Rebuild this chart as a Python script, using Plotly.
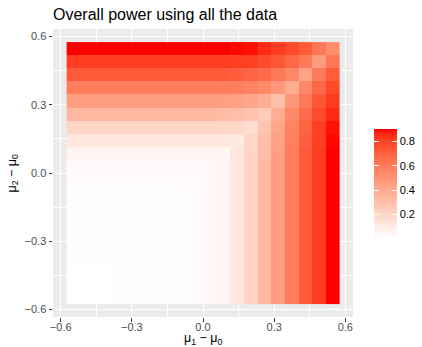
import plotly.graph_objects as go

# Grid of mean differences (tile centres) on both axes
mu1_minus_mu0 = [-0.5463, -0.4888, -0.4313, -0.3738, -0.3163, -0.2588, -0.2013, -0.1438,
                 -0.0863, -0.0288, 0.0288, 0.0863, 0.1438, 0.2013, 0.2588, 0.3163,
                 0.3738, 0.4313, 0.4888, 0.5463]
mu2_minus_mu0 = list(mu1_minus_mu0)

# Overall power: one row per mu2 value (bottom to top), one column per mu1 value
power = [
    [0.007, 0.008, 0.009, 0.010, 0.011, 0.012, 0.014, 0.016, 0.019, 0.023, 0.028, 0.056, 0.119, 0.205, 0.335, 0.456, 0.600, 0.725, 0.820, 0.905],
    [0.008, 0.008, 0.009, 0.010, 0.011, 0.012, 0.014, 0.016, 0.019, 0.023, 0.028, 0.056, 0.119, 0.205, 0.335, 0.456, 0.600, 0.725, 0.820, 0.905],
    [0.009, 0.009, 0.009, 0.010, 0.011, 0.012, 0.014, 0.016, 0.019, 0.023, 0.028, 0.056, 0.119, 0.205, 0.335, 0.456, 0.600, 0.725, 0.820, 0.905],
    [0.010, 0.010, 0.010, 0.010, 0.011, 0.012, 0.014, 0.016, 0.019, 0.023, 0.028, 0.056, 0.119, 0.205, 0.335, 0.456, 0.600, 0.725, 0.820, 0.905],
    [0.011, 0.011, 0.011, 0.011, 0.011, 0.012, 0.014, 0.016, 0.019, 0.023, 0.028, 0.056, 0.119, 0.205, 0.335, 0.456, 0.600, 0.725, 0.820, 0.905],
    [0.012, 0.012, 0.012, 0.012, 0.012, 0.012, 0.014, 0.016, 0.019, 0.023, 0.028, 0.056, 0.119, 0.205, 0.335, 0.456, 0.600, 0.725, 0.820, 0.905],
    [0.014, 0.014, 0.014, 0.014, 0.014, 0.014, 0.014, 0.016, 0.019, 0.023, 0.028, 0.056, 0.119, 0.205, 0.335, 0.456, 0.600, 0.725, 0.820, 0.905],
    [0.016, 0.016, 0.016, 0.016, 0.016, 0.016, 0.016, 0.016, 0.019, 0.023, 0.028, 0.056, 0.119, 0.205, 0.335, 0.456, 0.600, 0.725, 0.820, 0.905],
    [0.019, 0.019, 0.019, 0.019, 0.019, 0.019, 0.019, 0.019, 0.019, 0.023, 0.028, 0.056, 0.119, 0.205, 0.335, 0.456, 0.600, 0.725, 0.820, 0.905],
    [0.023, 0.023, 0.023, 0.023, 0.023, 0.023, 0.023, 0.023, 0.023, 0.023, 0.028, 0.056, 0.119, 0.205, 0.335, 0.456, 0.600, 0.725, 0.820, 0.905],
    [0.028, 0.028, 0.028, 0.028, 0.028, 0.028, 0.028, 0.028, 0.028, 0.028, 0.028, 0.056, 0.119, 0.205, 0.335, 0.456, 0.600, 0.725, 0.820, 0.905],
    [0.056, 0.056, 0.056, 0.056, 0.056, 0.056, 0.056, 0.056, 0.056, 0.056, 0.056, 0.052, 0.119, 0.205, 0.321, 0.456, 0.600, 0.725, 0.820, 0.905],
    [0.119, 0.119, 0.119, 0.119, 0.119, 0.119, 0.119, 0.119, 0.119, 0.119, 0.119, 0.119, 0.106, 0.200, 0.312, 0.443, 0.586, 0.712, 0.815, 0.896],
    [0.205, 0.205, 0.205, 0.205, 0.205, 0.205, 0.205, 0.205, 0.205, 0.205, 0.205, 0.205, 0.200, 0.169, 0.285, 0.425, 0.573, 0.694, 0.811, 0.887],
    [0.335, 0.335, 0.335, 0.335, 0.335, 0.335, 0.335, 0.335, 0.335, 0.335, 0.335, 0.321, 0.312, 0.285, 0.249, 0.384, 0.546, 0.667, 0.775, 0.860],
    [0.456, 0.456, 0.456, 0.456, 0.456, 0.456, 0.456, 0.456, 0.456, 0.456, 0.456, 0.456, 0.443, 0.425, 0.384, 0.303, 0.483, 0.613, 0.739, 0.820],
    [0.600, 0.600, 0.600, 0.600, 0.600, 0.600, 0.600, 0.600, 0.600, 0.600, 0.600, 0.600, 0.586, 0.573, 0.546, 0.483, 0.393, 0.555, 0.681, 0.779],
    [0.725, 0.725, 0.725, 0.725, 0.725, 0.725, 0.725, 0.725, 0.725, 0.725, 0.725, 0.725, 0.712, 0.694, 0.667, 0.613, 0.555, 0.438, 0.609, 0.721],
    [0.820, 0.820, 0.820, 0.820, 0.820, 0.820, 0.820, 0.820, 0.820, 0.820, 0.820, 0.820, 0.815, 0.811, 0.775, 0.739, 0.681, 0.609, 0.474, 0.618],
    [0.905, 0.905, 0.905, 0.905, 0.905, 0.905, 0.905, 0.905, 0.905, 0.905, 0.905, 0.905, 0.896, 0.887, 0.860, 0.820, 0.779, 0.721, 0.618, 0.528],
]

axis_ticks = [-0.6, -0.3, 0.0, 0.3, 0.6]
axis_ticktext = ["\u22120.6", "\u22120.3", "0.0", "0.3", "0.6"]
legend_ticks = [0.2, 0.4, 0.6, 0.8]
legend_ticktext = ["0.2", "0.4", "0.6", "0.8"]


# White -> red gradient interpolated in CIELAB space
def lab_to_rgb(L, a, b):
    fy = (L + 16) / 116
    fx = fy + a / 500
    fz = fy - b / 200

    def finv(f):
        return f ** 3 if f ** 3 > 0.008856 else (f - 16 / 116) / 7.787

    X, Y, Z = 0.95047 * finv(fx), 1.0 * finv(fy), 1.08883 * finv(fz)
    rl = 3.2406 * X - 1.5372 * Y - 0.4986 * Z
    gl = -0.9689 * X + 1.8758 * Y + 0.0415 * Z
    bl = 0.0557 * X - 0.2040 * Y + 1.0570 * Z

    def gam(c):
        c = min(max(c, 0.0), 1.0)
        return 12.92 * c if c <= 0.0031308 else 1.055 * c ** (1 / 2.4) - 0.055

    return tuple(int(round(255 * gam(c))) for c in (rl, gl, bl))


LAB_LOW = (100.0, 0.0, 0.0)
LAB_HIGH = (53.2408, 80.0925, 67.2032)
n_stops = 21
colorscale = []
for s in range(n_stops):
    t = s / (n_stops - 1)
    lab = [lo + t * (hi - lo) for lo, hi in zip(LAB_LOW, LAB_HIGH)]
    r, g, b = lab_to_rgb(*lab)
    colorscale.append([t, f"rgb({r},{g},{b})"])

fig = go.Figure()

fig.add_trace(go.Heatmap(
    x=mu1_minus_mu0, y=mu2_minus_mu0, z=power,
    colorscale=colorscale,
    hoverinfo="skip",
    colorbar=dict(
        thicknessmode="pixels", thickness=23,
        lenmode="pixels", len=109,
        x=1.07, xanchor="left", xpad=0,
        y=0.464, yanchor="middle", ypad=0,
        outlinewidth=0,
        tickvals=legend_ticks, ticktext=legend_ticktext,
        ticks="inside", ticklen=4.6, tickwidth=1, tickcolor="white",
        tickfont=dict(family="Liberation Sans", size=11, color="black"),
    ),
))

# Transparent copy that only supplies the left-hand tick marks of the legend bar
fig.add_trace(go.Heatmap(
    x=mu1_minus_mu0, y=mu2_minus_mu0, z=power,
    colorscale=[[0, "rgba(0,0,0,0)"], [1, "rgba(0,0,0,0)"]],
    hoverinfo="skip",
    colorbar=dict(
        thicknessmode="pixels", thickness=4.6,
        lenmode="pixels", len=109,
        x=1.07, xanchor="left", xpad=0,
        y=0.464, yanchor="middle", ypad=0,
        outlinewidth=0,
        tickvals=legend_ticks, ticks="inside", ticklen=4.6,
        tickwidth=1, tickcolor="white", showticklabels=False,
    ),
))

axis_common = dict(
    tickvals=axis_ticks, ticktext=axis_ticktext,
    ticks="outside", ticklen=3.5, tickwidth=1, tickcolor="#333333",
    tickfont=dict(family="Liberation Sans", size=11, color="#4D4D4D"),
    showgrid=True, gridcolor="white", gridwidth=1.2,
    minor=dict(dtick=0.15, tick0=-0.45, showgrid=True, gridcolor="white",
               gridwidth=0.6, ticks=""),
    zeroline=False, showline=False,
    range=[-0.6325, 0.6325],
)

fig.update_layout(
    width=422, height=347,
    margin=dict(l=53, r=69, t=29, b=30, autoexpand=False),
    paper_bgcolor="white", plot_bgcolor="#EBEBEB",
    font=dict(family="Liberation Sans", color="black"),
    xaxis=dict(axis_common, ticklabelstandoff=-4),
    yaxis=axis_common,
    title=dict(
        text="Overall power using all the data",
        font=dict(family="Liberation Sans", size=16, color="black"),
        xref="paper", x=0, xanchor="left",
        yref="container", y=1 - 14 / 347, yanchor="middle",
    ),
    annotations=[
        dict(text="\u03bc<sub>1</sub> \u2212 \u03bc<sub>0</sub>",
             xref="paper", yref="paper", x=0.5, y=-0.046,
             xanchor="center", yanchor="top", showarrow=False, borderpad=0,
             font=dict(family="Liberation Sans", size=12.5, color="black")),
        dict(text="\u03bc<sub>2</sub> \u2212 \u03bc<sub>0</sub>",
             xref="paper", yref="paper", x=-0.135, y=0.5,
             xanchor="center", yanchor="middle", showarrow=False, textangle=-90,
             borderpad=0,
             font=dict(family="Liberation Sans", size=12.5, color="black")),
    ],
)

fig.write_html("out.html")
